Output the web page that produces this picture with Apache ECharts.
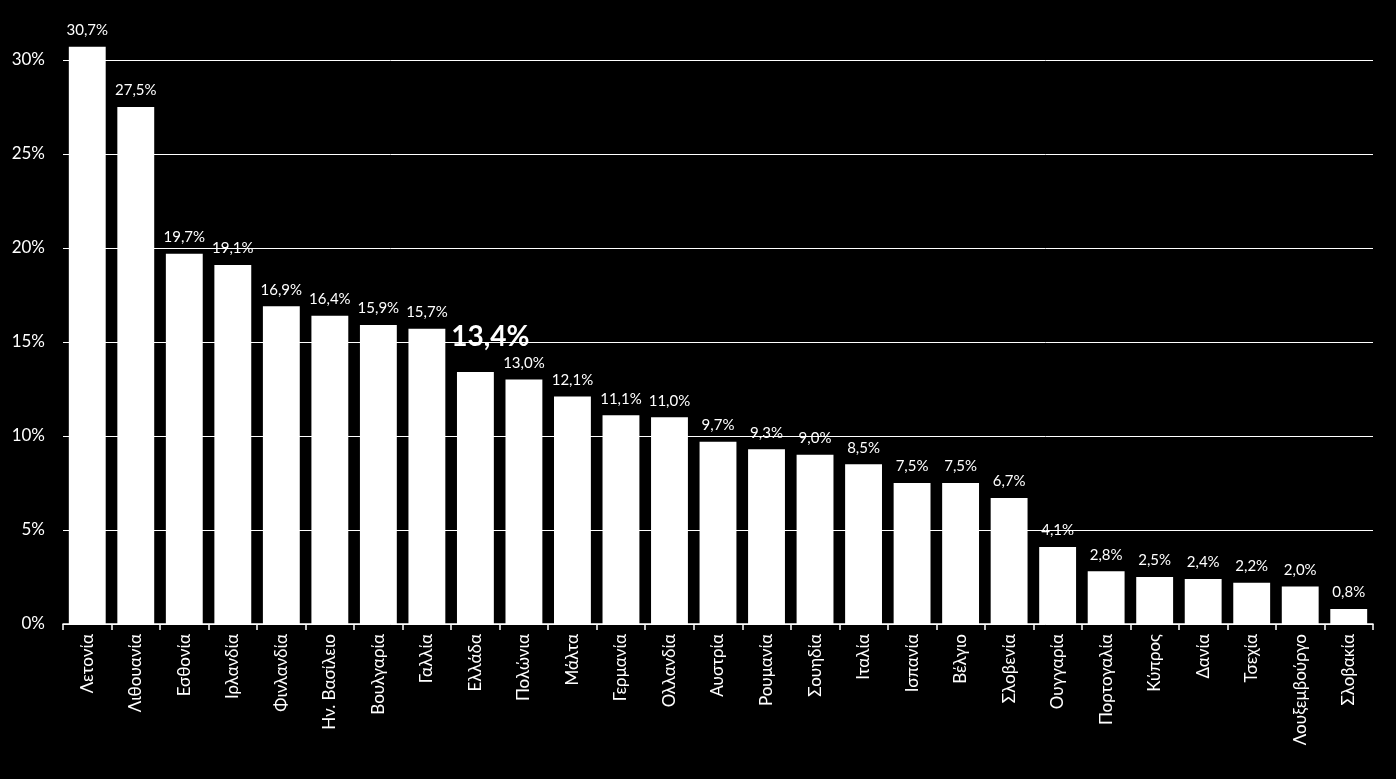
<!DOCTYPE html>
<html><head><meta charset="utf-8">
<script src="https://cdn.jsdelivr.net/npm/echarts@6/dist/echarts.min.js"></script>
<style>html,body{margin:0;padding:0;background:#000}#c{width:1396px;height:779px}</style>
</head><body><div id="c"></div>
<script>
const categories = ['Λετονία','Λιθουανία','Εσθονία','Ιρλανδία','Φινλανδία','Ην. Βασίλειο','Βουλγαρία','Γαλλία','Ελλάδα','Πολώνια','Μάλτα','Γερμανία','Ολλανδία','Αυστρία','Ρουμανία','Σουηδία','Ιταλία','Ισπανία','Βέλγιο','Σλοβενία','Ουγγαρία','Πορτογαλία','Κύπρος','Δανία','Τσεχία','Λουξεμβούργο','Σλοβακία'];
const values = [30.7,27.5,19.7,19.1,16.9,16.4,15.9,15.7,13.4,13.0,12.1,11.1,11.0,9.7,9.3,9.0,8.5,7.5,7.5,6.7,4.1,2.8,2.5,2.4,2.2,2.0,0.8];
const highlight = 'Ελλάδα';
const yTicks = [0,5,10,15,20,25,30];

const font = 'Lato, "Open Sans", "Noto Sans", sans-serif';
const fmt = v => v.toFixed(1).replace('.', ',') + '%';
const data = values.map((v, i) => {
  const d = { value: v };
  if (categories[i] === highlight) {
    d.label = { fontSize: 28, fontWeight: 'bold', offset: [15, -12] };
  }
  return d;
});

const chart = echarts.init(document.getElementById('c'));
chart.setOption({
  backgroundColor: '#000',
  animation: false,
  grid: { left: 63, right: 23, top: 60, bottom: 155, containLabel: false },
  xAxis: {
    type: 'category',
    data: categories,
    axisLine: { lineStyle: { color: '#fff', width: 1.5 } },
    axisTick: { show: true, length: 6, lineStyle: { color: '#fff', width: 1.5 } },
    axisLabel: { rotate: 90, color: '#fff', fontSize: 17, fontFamily: font, margin: 10, interval: 0 }
  },
  yAxis: {
    type: 'value',
    min: yTicks[0], max: yTicks[yTicks.length - 1], interval: 5,
    axisLine: { show: false },
    axisTick: { show: false },
    splitLine: { lineStyle: { color: '#fff', width: 1 } },
    axisLabel: { color: '#fff', fontSize: 17, fontFamily: font, margin: 18, formatter: v => v + '%' }
  },
  series: [{
    type: 'bar',
    data: data,
    clip: false,
    barCategoryGap: '24%',
    itemStyle: { color: '#fff' },
    label: {
      show: true, position: 'top', distance: 9, color: '#fff', fontSize: 15, fontFamily: font,
      formatter: p => fmt(p.value)
    }
  }]
});
</script></body></html>
